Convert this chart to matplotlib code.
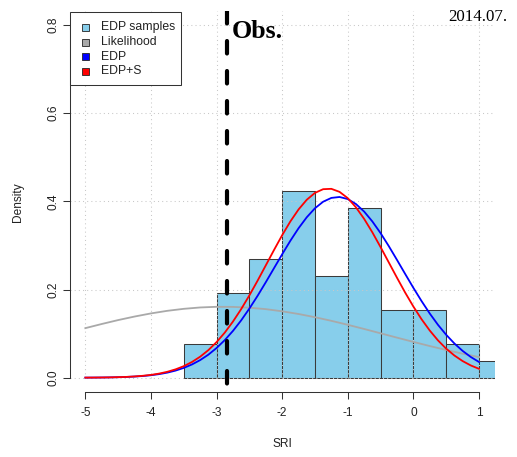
import matplotlib
matplotlib.use("Agg")
import matplotlib.pyplot as plt
from matplotlib.patches import Rectangle

# Histogram of EDP samples (density scale, bins of width 0.5)
bin_left = [-3.5, -3.0, -2.5, -2.0, -1.5, -1.0, -0.5, 0.0, 0.5, 1.0]
bin_density = [0.0769, 0.1923, 0.2692, 0.4231, 0.2308, 0.3846, 0.1538, 0.1538, 0.0769, 0.0385]
bin_width = 0.5

# Likelihood curve on a 0.25 SRI grid
sri_coarse = [-5.0, -4.75, -4.5, -4.25, -4.0, -3.75, -3.5, -3.25, -3.0, -2.75, -2.5, -2.25,
              -2.0, -1.75, -1.5, -1.25, -1.0, -0.75, -0.5, -0.25, 0.0, 0.25, 0.5, 0.75, 1.0]
likelihood = [0.1124, 0.1218, 0.1307, 0.1387, 0.1458, 0.1517, 0.1562, 0.1593, 0.1608, 0.1606,
              0.1588, 0.1555, 0.1506, 0.1445, 0.1372, 0.1290, 0.1200, 0.1105, 0.1007, 0.0909,
              0.0812, 0.0718, 0.0629, 0.0545, 0.0467]

# EDP and EDP+S densities on a 0.125 SRI grid
sri_fine = [-5.0, -4.875, -4.75, -4.625, -4.5, -4.375, -4.25, -4.125, -4.0, -3.875, -3.75,
            -3.625, -3.5, -3.375, -3.25, -3.125, -3.0, -2.875, -2.75, -2.625, -2.5, -2.375,
            -2.25, -2.125, -2.0, -1.875, -1.75, -1.625, -1.5, -1.375, -1.25, -1.125, -1.0,
            -0.875, -0.75, -0.625, -0.5, -0.375, -0.25, -0.125, 0.0, 0.125, 0.25, 0.375,
            0.5, 0.625, 0.75, 0.875, 1.0]
edp = [0.00016, 0.00027, 0.00044, 0.0007, 0.0011, 0.0017, 0.0026, 0.0038, 0.0056, 0.0081,
       0.0115, 0.0161, 0.0222, 0.0300, 0.0399, 0.0522, 0.0673, 0.0852, 0.1061, 0.1300,
       0.1567, 0.1856, 0.2164, 0.2482, 0.2799, 0.3106, 0.3390, 0.3639, 0.3843, 0.3992,
       0.4078, 0.4099, 0.4052, 0.3939, 0.3768, 0.3544, 0.3280, 0.2986, 0.2673, 0.2354,
       0.2039, 0.1738, 0.1456, 0.1200, 0.0974, 0.0777, 0.0609, 0.0470, 0.0357]
edp_s = [0.00016, 0.00027, 0.00044, 0.0007, 0.0012, 0.0018, 0.0028, 0.0043, 0.0063, 0.0093,
         0.0134, 0.0189, 0.0261, 0.0356, 0.0476, 0.0625, 0.0807, 0.1022, 0.1273, 0.1555,
         0.1866, 0.2199, 0.2546, 0.2894, 0.3232, 0.3544, 0.3816, 0.4036, 0.4192, 0.4276,
         0.4284, 0.4215, 0.4073, 0.3865, 0.3602, 0.3297, 0.2963, 0.2616, 0.2269, 0.1931,
         0.1615, 0.1326, 0.1070, 0.0847, 0.0659, 0.0504, 0.0378, 0.0278, 0.0202]

obs_sri = -2.84

x_ticks = [-5, -4, -3, -2, -1, 0, 1]
y_ticks = [0.0, 0.2, 0.4, 0.6, 0.8]
y_tick_labels = ["0.0", "0.2", "0.4", "0.6", "0.8"]

legend_labels = ["EDP samples", "Likelihood", "EDP", "EDP+S"]
legend_colors = ["#87CEEB", "#A9A9A9", "#0000FF", "#FF0000"]

W, H = 517, 457
SANS = ["Liberation Sans", "DejaVu Sans"]
SERIF = ["Liberation Serif", "DejaVu Serif"]
AX_COL = "#333333"

fig = plt.figure(figsize=(W / 100, H / 100), dpi=100)
ax = fig.add_axes([69.6 / W, 1 - 391.8 / H, 425.1 / W, 380.9 / H])
ax.set_xlim(-5.24, 1.24)
ax.set_ylim(-0.032, 0.832)


def fpx(x, y):
    return x / W, 1 - y / H


# histogram bars
ax.bar(bin_left, bin_density, width=bin_width, align="edge", color="#87CEEB",
       edgecolor="#3a3a3a", linewidth=0.75, zorder=1)

# dotted grid drawn over the bars
grid_kw = dict(color="#C8C8C8", linewidth=0.75, linestyle=(0, (1, 3)), zorder=2)
ax.hlines(y_ticks, -5.24, 1.24, **grid_kw)
ax.vlines(x_ticks, 0, 0.832, **grid_kw)

# density curves
ax.plot(sri_coarse, likelihood, color="#A9A9A9", linewidth=1.3, zorder=3)
ax.plot(sri_fine, edp, color="#0000FF", linewidth=1.3, zorder=4)
ax.plot(sri_fine, edp_s, color="#FF0000", linewidth=1.3, zorder=4)

# observed value
obs_line, = ax.plot([obs_sri, obs_sri], [1, 0], transform=ax.get_xaxis_transform(),
                    color="black", linewidth=3.0, zorder=5)
obs_line.set_dash_capstyle("round")
obs_line.set_dashes((3.0, 4.2))
ax.text(obs_sri + 0.07, 0.8 - (37.5 - 25) / 441, "Obs.", fontsize=18.7, fontweight="bold",
        family=SERIF, ha="left", va="baseline", zorder=6)

# axes in base-graphics style
for side in ("top", "right"):
    ax.spines[side].set_visible(False)
ax.spines["left"].set_bounds(0, 0.8)
ax.spines["bottom"].set_bounds(-5, 1)
for side in ("left", "bottom"):
    ax.spines[side].set_color(AX_COL)
    ax.spines[side].set_linewidth(0.75)
ax.set_xticks(x_ticks)
ax.set_xticklabels([str(t) for t in x_ticks], family=SANS, fontsize=8.6, color="#222222")
ax.set_yticks(y_ticks)
ax.set_yticklabels(y_tick_labels, family=SANS, fontsize=8.6, color="#222222",
                   rotation=90, va="center")
ax.tick_params(axis="both", length=5, width=0.75, color=AX_COL)
ax.tick_params(axis="x", pad=6)
ax.tick_params(axis="y", pad=2)

fig.text(*fpx(282, 444), "SRI", family=SANS, fontsize=8.6, color="#222222",
         ha="center", va="center")
fig.text(*fpx(18, 202), "Density", family=SANS, fontsize=8.6, color="#222222",
         ha="center", va="center", rotation=90)
fig.text(*fpx(448, 21), "2014.07.", family=SERIF, fontsize=12.2, color="black",
         ha="left", va="baseline")

# legend box
lx0, ly0, lx1, ly1 = 69.6, 12, 181, 85
fig.patches.append(Rectangle(fpx(lx0, ly1), (lx1 - lx0) / W, (ly1 - ly0) / H,
                             transform=fig.transFigure, facecolor="white",
                             edgecolor=AX_COL, linewidth=0.75, zorder=10))
row_y = [27.3, 42.0, 56.7, 71.4]
for lab, col, ry in zip(legend_labels, legend_colors, row_y):
    fig.patches.append(Rectangle(fpx(81.5, ry + 3.5), 7 / W, 7 / H,
                                 transform=fig.transFigure, facecolor=col,
                                 edgecolor="#222222", linewidth=0.6, zorder=11))
    fig.text(*fpx(101, ry), lab, family=SANS, fontsize=8.8, color="#222222",
             ha="left", va="center", zorder=12)

fig.savefig("out.png", dpi=100)
